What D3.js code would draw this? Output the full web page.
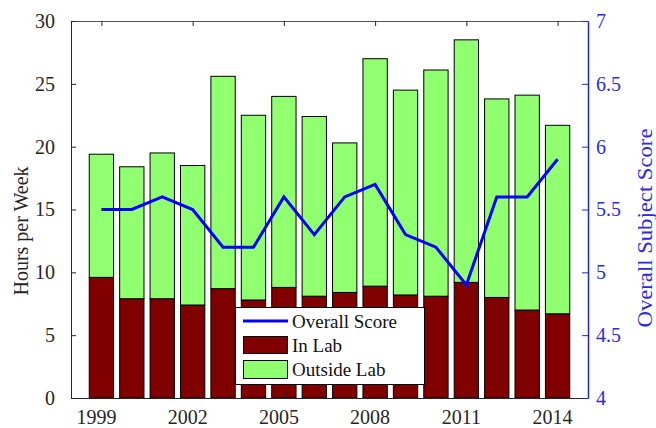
<!DOCTYPE html>
<html>
<head>
<meta charset="utf-8">
<script src="https://cdn.jsdelivr.net/npm/d3@7/dist/d3.min.js"></script>
</head>
<body style="margin:0;background:#fff">
<svg id="chart" width="656" height="428" font-family="Liberation Serif"></svg>
<script>
const years = [1999,2000,2001,2002,2003,2004,2005,2006,2007,2008,2009,2010,2011,2012,2013,2014];
const inLab = [9.6,7.9,7.9,7.4,8.7,7.8,8.8,8.1,8.4,8.9,8.2,8.1,9.2,8.0,7.0,6.7];
const outsideLab = [9.8,10.5,11.6,11.1,16.9,14.7,15.2,14.3,11.9,18.1,16.3,18.0,19.3,15.8,17.1,15.0];
const overallScore = [5.5,5.5,5.6,5.5,5.2,5.2,5.6,5.3,5.6,5.7,5.3,5.2,4.9,5.6,5.6,5.9];
const xTicks = [1999,2002,2005,2008,2011,2014];
const leftTicks = [0,5,10,15,20,25,30];
const rightTicks = [4,4.5,5,5.5,6,6.5,7];

const FONT = "Liberation Serif";
const svg = d3.select("#chart");
const L = 71, R = 588, T = 21, B = 398;
const x = d3.scaleLinear().domain([1998, 2015]).range([L, R]);
const y = d3.scaleLinear().domain([0, 30]).range([B, T]);
const y2 = d3.scaleLinear().domain([4, 7]).range([B, T]);
const bw = x(1999.8) - x(1999);
const axisCol = "#262626";
const blue = "#0000ff";
const blueAxis = "#2323d8";
const blueText = "#2a2ae6";

// bars
const g = svg.append("g");
years.forEach((yr, i) => {
  g.append("rect")
    .attr("x", x(yr) - bw/2).attr("width", bw)
    .attr("y", y(inLab[i])).attr("height", y(0) - y(inLab[i]))
    .attr("fill", "#800000").attr("stroke", "#000").attr("stroke-width", 1);
  g.append("rect")
    .attr("x", x(yr) - bw/2).attr("width", bw)
    .attr("y", y(inLab[i] + outsideLab[i])).attr("height", y(inLab[i]) - y(inLab[i] + outsideLab[i]))
    .attr("fill", "#90ff70").attr("stroke", "#000").attr("stroke-width", 1);
});

// line
svg.append("path")
  .datum(years.map((yr, i) => [yr, overallScore[i]]))
  .attr("fill", "none").attr("stroke", blue).attr("stroke-width", 3)
  .attr("d", d3.line().x(d => x(d[0])).y(d => y2(d[1])));

// axes
const bottomAxis = svg.append("g").attr("transform", `translate(0,${B})`)
  .call(d3.axisBottom(x).tickValues(xTicks).tickFormat(d3.format("d")).tickSizeInner(-5).tickSizeOuter(0).tickPadding(12));
const topAxis = svg.append("g").attr("transform", `translate(0,${T})`)
  .call(d3.axisTop(x).tickValues(xTicks).tickFormat("").tickSizeInner(-5).tickSizeOuter(0));
const leftAxis = svg.append("g").attr("transform", `translate(${L},0)`)
  .call(d3.axisLeft(y).tickValues(leftTicks).tickSizeInner(-5).tickSizeOuter(0).tickPadding(16));
const rightAxis = svg.append("g").attr("transform", `translate(${R},0)`)
  .call(d3.axisRight(y2).tickValues(rightTicks).tickFormat(d => String(d)).tickSizeInner(-6).tickSizeOuter(0).tickPadding(8));

[bottomAxis, topAxis, leftAxis, rightAxis].forEach(a => a.attr("font-family", FONT).attr("font-size", 20));
[bottomAxis, topAxis, leftAxis].forEach(a => {
  a.selectAll("path").attr("stroke", axisCol).attr("stroke-width", 1);
  a.selectAll("line").attr("stroke", axisCol);
  a.selectAll("text").attr("fill", axisCol).attr("font-family", FONT).attr("font-size", 20);
});
bottomAxis.selectAll("text").attr("dx", -5.5);
topAxis.selectAll("path").attr("stroke", "#555");
rightAxis.selectAll("path").attr("stroke", blueAxis).attr("stroke-width", 1.5);
rightAxis.selectAll("line").attr("stroke", blueAxis);
rightAxis.selectAll("text").attr("fill", blueText).attr("font-family", FONT).attr("font-size", 20);

// axis titles
svg.append("text").attr("transform", "translate(28,231) rotate(-90)")
  .attr("text-anchor", "middle").attr("fill", axisCol)
  .attr("font-family", FONT).attr("font-size", 20).text("Hours per Week");
svg.append("text").attr("transform", "translate(652,228) rotate(-90)")
  .attr("text-anchor", "middle").attr("fill", blueText)
  .attr("font-family", FONT).attr("font-size", 21)
  .attr("textLength", 199).attr("lengthAdjust", "spacingAndGlyphs")
  .text("Overall Subject Score");

// legend
const lg = svg.append("g");
lg.append("rect").attr("x", 235.5).attr("y", 307.5).attr("width", 189).attr("height", 77)
  .attr("fill", "#fff").attr("stroke", "#000").attr("stroke-width", 1);
lg.append("line").attr("x1", 243).attr("x2", 288).attr("y1", 321).attr("y2", 321)
  .attr("stroke", blue).attr("stroke-width", 3);
lg.append("rect").attr("x", 243.5).attr("y", 336.5).attr("width", 44).attr("height", 17)
  .attr("fill", "#800000").attr("stroke", "#000");
lg.append("rect").attr("x", 243.5).attr("y", 360.5).attr("width", 44).attr("height", 18)
  .attr("fill", "#90ff70").attr("stroke", "#000");
const labels = ["Overall Score", "In Lab", "Outside Lab"];
const ly = [321, 345, 369];
labels.forEach((t, i) => {
  lg.append("text").attr("x", 292).attr("y", ly[i]).attr("dy", "0.35em")
    .attr("fill", "#111").attr("font-family", FONT).attr("font-size", 19).text(t);
});
</script>
</body>
</html>
